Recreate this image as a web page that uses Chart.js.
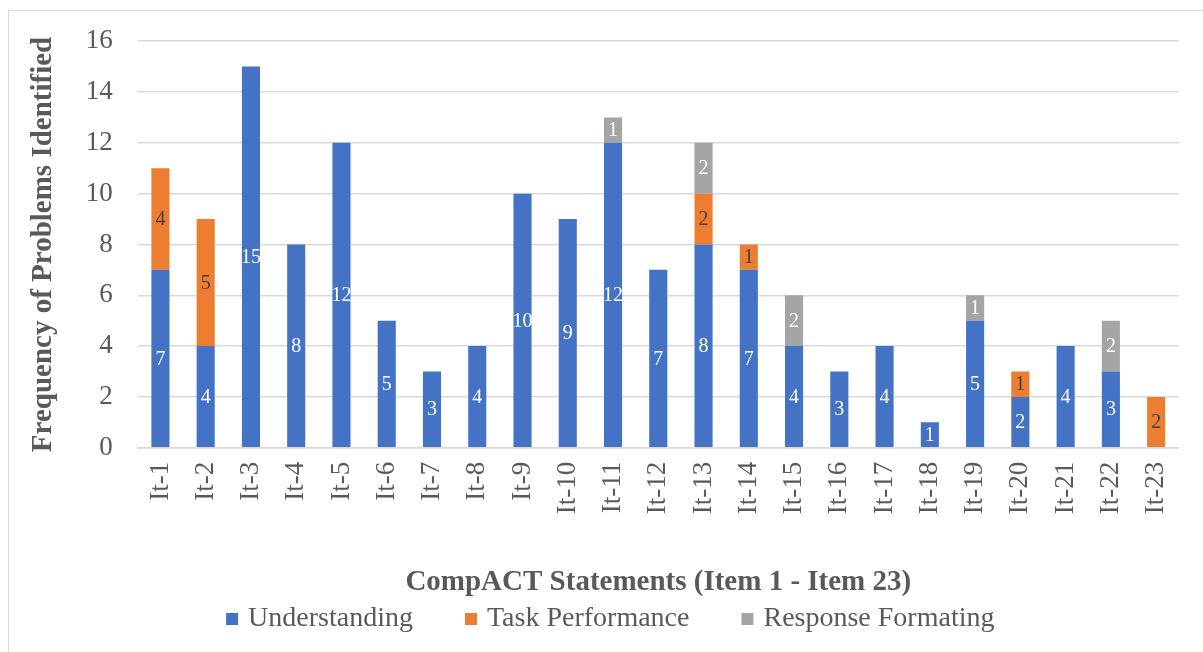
<!DOCTYPE html>
<html>
<head>
<meta charset="utf-8">
<script src="https://cdn.jsdelivr.net/npm/chart.js@4.4.1/dist/chart.umd.min.js"></script>
<style>
  html, body { margin: 0; padding: 0; background: #ffffff; overflow: hidden; }
  #frame { position: absolute; left: 8px; top: 10px; width: 1400px; height: 900px;
           border: 1px solid #d9d9d9; box-sizing: border-box; }
  #wrap { position: absolute; left: 0; top: 0; width: 1203px; height: 652px; }
</style>
</head>
<body>
<div id="frame"></div>
<div id="wrap"><canvas id="chart" width="1203" height="652"></canvas></div>
<script>
// Problems identified per CompACT statement, split by problem type
const items = ['It-1','It-2','It-3','It-4','It-5','It-6','It-7','It-8','It-9','It-10','It-11','It-12',
               'It-13','It-14','It-15','It-16','It-17','It-18','It-19','It-20','It-21','It-22','It-23'];
const understanding     = [7, 4, 15, 8, 12, 5, 3, 4, 10, 9, 12, 7, 8, 7, 4, 3, 4, 1, 5, 2, 4, 3, 0];
const taskPerformance   = [4, 5, 0, 0, 0, 0, 0, 0, 0, 0, 0, 0, 2, 1, 0, 0, 0, 0, 0, 1, 0, 0, 2];
const responseFormating = [0, 0, 0, 0, 0, 0, 0, 0, 0, 0, 1, 0, 2, 0, 2, 0, 0, 0, 1, 0, 0, 2, 0];
const yTicks = [0, 2, 4, 6, 8, 10, 12, 14, 16];

const SERIF = '"Liberation Serif", "Times New Roman", serif';
const TEXT = '#595959';

// Value labels centred inside each stacked segment
const segmentLabels = {
  id: 'segmentLabels',
  afterDatasetsDraw(chart) {
    const ctx = chart.ctx;
    ctx.save();
    ctx.font = '20px ' + SERIF;
    ctx.textAlign = 'center';
    ctx.textBaseline = 'middle';
    chart.data.datasets.forEach((ds, di) => {
      const meta = chart.getDatasetMeta(di);
      if (meta.hidden) return;
      meta.data.forEach((bar, i) => {
        const v = ds.data[i];
        if (!v) return;
        const y = (bar.y + bar.base) / 2;
        ctx.fillStyle = ds.labelColor;
        ctx.fillText(String(v), bar.x, y + 1);
      });
    });
    ctx.restore();
  }
};

// Legend row drawn under the axis title
const bottomLegend = {
  id: 'bottomLegend',
  afterDraw(chart) {
    const ctx = chart.ctx;
    ctx.save();
    ctx.font = '28px ' + SERIF;
    ctx.textBaseline = 'middle';
    const box = 12, gapText = 10, gapItem = 52, y = 619;
    const entries = chart.data.datasets.map(ds => ({ text: ds.label, color: ds.backgroundColor,
      w: ctx.measureText(ds.label).width }));
    const total = entries.reduce((s, e) => s + box + gapText + e.w, 0) + gapItem * (entries.length - 1);
    let x = (chart.chartArea.left + chart.chartArea.right) / 2 - total / 2 - 48;
    entries.forEach(e => {
      ctx.fillStyle = e.color;
      ctx.fillRect(x, y - box / 2, box, box);
      x += box + gapText;
      ctx.fillStyle = TEXT;
      ctx.fillText(e.text, x, y);
      x += e.w + gapItem;
    });
    ctx.restore();
  }
};

new Chart(document.getElementById('chart'), {
  type: 'bar',
  data: {
    labels: items,
    datasets: [
      { label: 'Understanding', data: understanding, backgroundColor: '#4472C4', labelColor: '#ffffff' },
      { label: 'Task Performance', data: taskPerformance, backgroundColor: '#ED7D31', labelColor: '#404040' },
      { label: 'Response Formating', data: responseFormating, backgroundColor: '#A5A5A5', labelColor: '#ffffff' }
    ]
  },
  plugins: [segmentLabels, bottomLegend],
  options: {
    responsive: false,
    animation: false,
    layout: { padding: { left: 26, right: 21, top: 26, bottom: 52 } },
    datasets: { bar: { categoryPercentage: 1.0, barPercentage: 0.4 } },
    plugins: { legend: { display: false }, tooltip: { enabled: false } },
    scales: {
      x: {
        stacked: true,
        grid: { display: false, drawTicks: false },
        border: { display: true, color: '#d9d9d9', width: 1.5 },
        ticks: { color: TEXT, font: { family: SERIF, size: 27 }, minRotation: 90, maxRotation: 90,
                 padding: 14, autoSkip: false },
        title: { display: true, text: 'CompACT Statements (Item 1 - Item 23)', color: TEXT,
                 font: { family: SERIF, size: 29, weight: 'bold' }, padding: { top: 37, bottom: 0 } }
      },
      y: {
        stacked: true,
        min: 0, max: 16,
        afterBuildTicks(scale) { scale.ticks = yTicks.map(v => ({ value: v })); },
        grid: { color: '#d9d9d9', lineWidth: 1.5, drawTicks: false },
        border: { display: false },
        ticks: { color: TEXT, font: { family: SERIF, size: 27 }, padding: 25 },
        title: { display: true, text: 'Frequency of Problems Identified', color: TEXT,
                 font: { family: SERIF, size: 29, weight: 'bold' }, padding: { top: 0, bottom: 0 } }
      }
    }
  }
});
</script>
</body>
</html>
